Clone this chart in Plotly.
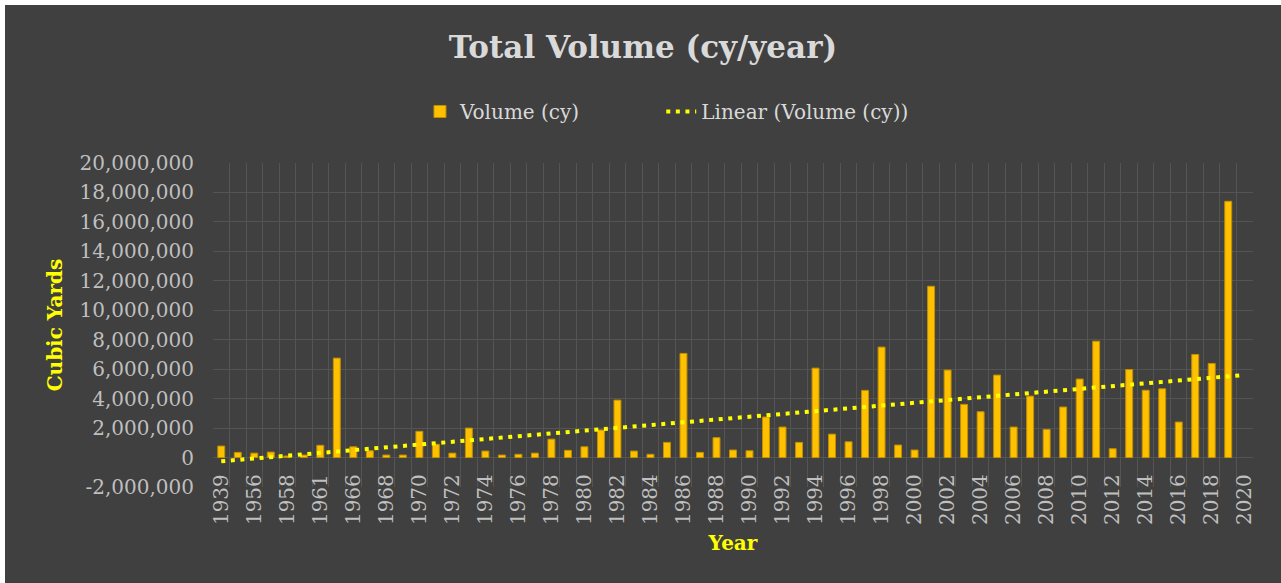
import numpy as np
import plotly.graph_objects as go

# ---- data ----
years = ["1939", "1955", "1956", "1957", "1958", "1960", "1961", "1964"] + [str(y) for y in range(1966, 2021)]

volume_cy = [780000, 350000, 300000, 370000, 100000, 170000, 830000, 6750000, 730000, 460000,
             170000, 170000, 1780000, 900000, 300000, 2000000, 440000, 170000, 220000, 300000,
             1250000, 490000, 730000, 1870000, 3900000, 440000, 220000, 1030000, 7070000, 350000,
             1350000, 510000, 460000, 2750000, 2070000, 1030000, 6070000, 1590000, 1070000, 4560000,
             7500000, 850000, 510000, 11630000, 5940000, 3610000, 3110000, 5600000, 2070000, 4170000,
             1910000, 3430000, 5330000, 7900000, 600000, 5980000, 4570000, 4670000, 2410000, 7000000,
             6390000, 17400000, None]

y_ticks = [-2000000, 0, 2000000, 4000000, 6000000, 8000000, 10000000, 12000000,
           14000000, 16000000, 18000000, 20000000]
y_tick_labels = [f"{v:,}" for v in y_ticks]

# ---- derived: linear trendline (blank cell counted as zero, as the spreadsheet does) ----
idx = np.arange(len(years))
vals = np.array([0 if v is None else v for v in volume_cy], dtype=float)
coef = np.polyfit(idx + 1, vals, 1)
trend = np.polyval(coef, idx + 1)

GRID = "#545454"
BG = "#404040"
FONT = "DejaVu Serif"
LEGEND_FONT = dict(family=FONT, size=20, color="#d9d9d9")

fig = go.Figure()
fig.add_trace(go.Bar(
    x=idx, y=volume_cy, name="Volume (cy)", legend="legend", showlegend=True,
    marker=dict(color="#FFC000", line=dict(color="#BF9000", width=1)),
))
fig.add_trace(go.Scatter(
    x=idx, y=trend, mode="lines", name="Linear (Volume (cy))", legend="legend2", showlegend=True,
    line=dict(color="#FFFF00", width=4, dash="4px,5.6px"),
))

fig.update_layout(
    width=1276, height=578,
    margin=dict(l=208, r=28, t=158, b=96),
    paper_bgcolor=BG, plot_bgcolor=BG,
    font=dict(family=FONT, color="#bfbfbf"),
    bargap=0.58,
    showlegend=True,
    title=dict(text="<b>Total Volume (cy/year)</b>", x=0.5, xanchor="center",
               y=0.927, yanchor="middle", yref="container",
               font=dict(family=FONT, size=31, color="#d9d9d9")),
    legend=dict(visible=True, orientation="h", x=0.199, xanchor="left", y=1.159, yanchor="middle",
                font=LEGEND_FONT, bgcolor="rgba(0,0,0,0)"),
    legend2=dict(visible=True, orientation="h", x=0.431, xanchor="left", y=1.159, yanchor="middle",
                 font=LEGEND_FONT, bgcolor="rgba(0,0,0,0)"),
    xaxis=dict(
        range=[-0.5, len(years) - 0.5],
        tickmode="array", tickvals=list(idx[::2]), ticktext=years[::2],
        tickangle=-90, tickfont=dict(family=FONT, size=20, color="#bfbfbf"),
        showgrid=False, zeroline=False, showline=False, ticks="",
        minor=dict(tickmode="linear", tick0=-0.5, dtick=1, showgrid=True,
                   gridcolor=GRID, gridwidth=1, ticks=""),
        anchor="free", position=0.055,
        title=dict(text="<b>Year</b>", font=dict(family=FONT, size=20, color="#FFFF00"),
                   standoff=11),
    ),
    yaxis=dict(
        range=[-2000000, 20000000],
        tickmode="array", tickvals=y_ticks, ticktext=y_tick_labels,
        tickfont=dict(family=FONT, size=20, color="#bfbfbf"),
        showgrid=True, gridcolor=GRID, gridwidth=1, zeroline=False, showline=False,
        ticks="", ticklabelstandoff=18,
        title=dict(text="<b>Cubic Yards</b>", font=dict(family=FONT, size=20, color="#FFFF00"),
                   standoff=11),
    ),
)

fig.write_html("out.html",
               post_script="document.body.style.margin='5px 0 0 5px';document.body.style.overflow='hidden';")
